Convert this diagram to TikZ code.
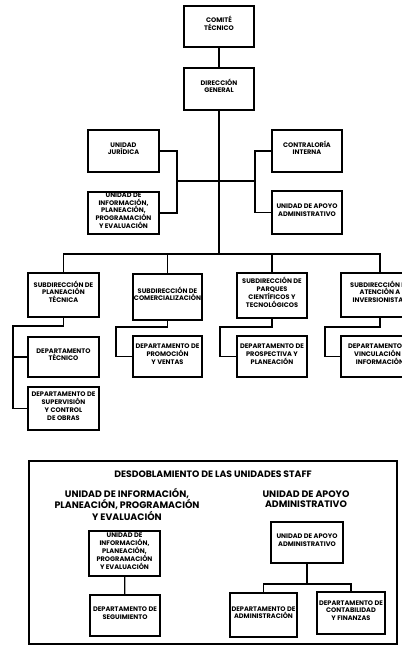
\documentclass[tikz,border=0pt]{standalone}
\usepackage{fontspec}
\setmainfont{Poppins}
\usetikzlibrary{fit}
\begin{document}
\begin{tikzpicture}[x=1pt,y=-1pt,
  box/.style={draw, line width=1.5pt, inner sep=0pt, align=center,
    font=\fontsize{6.6}{7.9}\selectfont\bfseries},
  ln/.style={line width=1.2pt},
  head/.style={align=center, inner sep=0pt, font=\fontsize{9.4}{10}\selectfont\bfseries},
  ttl/.style={inner sep=0pt, font=\fontsize{9.3}{10}\selectfont\bfseries}]
\useasboundingbox (0,0) rectangle (402,646);
\clip (0,0) rectangle (402,646);
\fill[white] (0,0) rectangle (402,646);
% top
\node[box, fit={(184,6) (254,47)}] (ct) {COMITÉ\\TÉCNICO};
\node[box, fit={(184,68) (254,110)}] (dg) {DIRECCIÓN\\GENERAL};
\node[box, fit={(88,130) (159,172)}] (uj) {UNIDAD\\JURÍDICA};
\node[box, fit={(88,192) (159,234)}] (ui) {UNIDAD DE\\INFORMACIÓN,\\PLANEACIÓN,\\PROGRAMACIÓN\\Y EVALUACIÓN};
\node[box, fit={(272,130) (342,172)}] (ci) {CONTRALORÍA\\INTERNA};
\node[box, fit={(272,191) (342,234)}] (ua) {UNIDAD DE APOYO\\ADMINISTRATIVO};
% subdirecciones
\node[box, fit={(28,273) (99,317)}] (s1) {SUBDIRECCIÓN DE\\PLANEACIÓN\\TÉCNICA};
\node[box, fit={(133,274) (202,320)}] (s2) {SUBDIRECCIÓN DE\\COMERCIALIZACIÓN};
\node[box, fit={(237,273) (307,318)}] (s3) {SUBDIRECCIÓN DE\\PARQUES\\CIENTÍFICOS Y\\TECNOLÓGICOS};
\node[box, fit={(341,273) (419,317)}] (s4) {SUBDIRECCIÓN DE\\ATENCIÓN A\\INVERSIONISTAS};
% departamentos
\node[box, fit={(28,337) (99,377)}] (d1) {DEPARTAMENTO\\TÉCNICO};
\node[box, fit={(28,387) (99,430)}] (d5) {DEPARTAMENTO DE\\SUPERVISIÓN\\Y CONTROL\\DE OBRAS};
\node[box, fit={(133,336) (202,377)}] (d2) {DEPARTAMENTO DE\\PROMOCIÓN\\Y VENTAS};
\node[box, fit={(237,336) (307,377)}] (d3) {DEPARTAMENTO DE\\PROSPECTIVA Y\\PLANEACIÓN};
\node[box, fit={(341,336) (419,377)}] (d4) {DEPARTAMENTO DE\\VINCULACIÓN E\\INFORMACIÓN};
% connectors top
\coordinate (bus) at (219,254);
\coordinate (lj) at (177,181);
\coordinate (rj) at (255,181);
\draw[ln] (ct) -- (dg);
\draw[ln] (dg) -- (bus);
\draw[ln] (uj.east) -| (lj);
\draw[ln] (ui.east) -| (lj);
\draw[ln] (ci.west) -| (rj);
\draw[ln] (ua.west) -| (rj);
\draw[ln] (lj) -- (rj);
\draw[ln] (s1.north) |- (bus) -| (s4.north);
\draw[ln] (s2.north) -- (s2.north |- bus);
\draw[ln] (s3.north) -- (s3.north |- bus);
% connectors to departments
\coordinate (k1) at (13,326);
\coordinate (k2) at (116,327);
\coordinate (k3) at (220,327);
\coordinate (k4) at (325,327);
\draw[ln] (s1.south) |- (k1) |- (d1.west);
\draw[ln] (k1) |- (d5.west);
\draw[ln] (s2.south) |- (k2) |- (d2.west);
\draw[ln] (s3.south) |- (k3) |- (d3.west);
\draw[ln] (s4.south) |- (k4) |- (d4.west);
% staff
\node[draw, line width=1.1pt, fit={(29,461) (397,644)}, inner sep=0pt] (st) {};
\node[ttl] (tt) at (213,474) {DESDOBLAMIENTO DE LAS UNIDADES STAFF};
\node[head, anchor=north] (h1) at (127,488) {UNIDAD DE INFORMACIÓN,\\PLANEACIÓN, PROGRAMACIÓN\\Y EVALUACIÓN};
\node[head, anchor=north] (h2) at (306,491) {UNIDAD DE APOYO\\ADMINISTRATIVO};
\node[box, fit={(89,531) (160,576)}] (i1) {UNIDAD DE\\INFORMACIÓN,\\PLANEACIÓN,\\PROGRAMACIÓN\\Y EVALUACIÓN};
\node[box, fit={(90,595) (160,636)}] (i2) {DEPARTAMENTO DE\\SEGUIMIENTO};
\node[box, fit={(271,522) (343,563)}] (a1) {UNIDAD DE APOYO\\ADMINISTRATIVO};
\node[box, fit={(230,593) (297,637)}] (a2) {DEPARTAMENTO DE\\ADMINISTRACIÓN};
\node[box, fit={(317,592) (385,634)}] (a3) {DEPARTAMENTO DE\\CONTABILIDAD\\Y FINANZAS};
\coordinate (ab) at (307,584);
\draw[ln] (i1) -- (i2);
\draw[ln] (a1.south) -- (ab);
\draw[ln] (a2.north) |- (ab) -| (a3.north);
\end{tikzpicture}
\end{document}
